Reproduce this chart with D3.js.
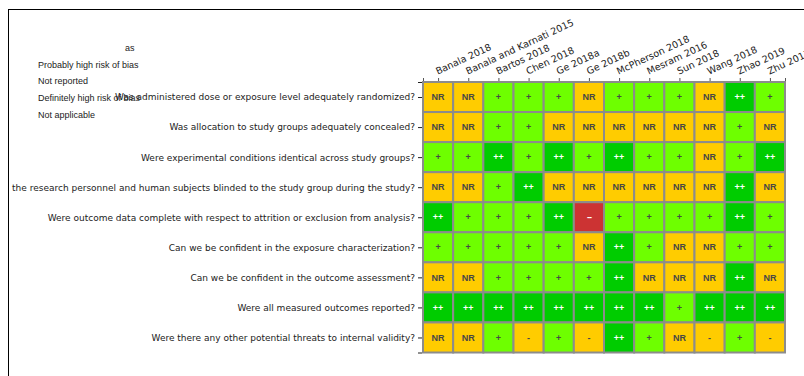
<!DOCTYPE html>
<html>
<head>
<meta charset="utf-8">
<script src="https://cdn.jsdelivr.net/npm/d3@7"></script>
<style>
  html, body { margin: 0; padding: 0; background: #fff; }
  svg { display: block; }
</style>
</head>
<body>
<svg id="chart" width="804" height="376"></svg>
<script>
// Risk-of-bias grid: one row per question, one column per study.
const studies = ["Banala 2018", "Banala and Karnati 2015", "Bartos 2018", "Chen 2018",
  "Ge 2018a", "Ge 2018b", "McPherson 2018", "Mesram 2016", "Sun 2018", "Wang 2018",
  "Zhao 2019", "Zhu 2017"];

const questions = [
  "Was administered dose or exposure level adequately randomized?",
  "Was allocation to study groups adequately concealed?",
  "Were experimental conditions identical across study groups?",
  "the research personnel and human subjects blinded to the study group during the study?",
  "Were outcome data complete with respect to attrition or exclusion from analysis?",
  "Can we be confident in the exposure characterization?",
  "Can we be confident in the outcome assessment?",
  "Were all measured outcomes reported?",
  "Were there any other potential threats to internal validity?"
];

// Ratings per question (row), ordered as the studies array
const ratingsQ1 = ["NR","NR","+","+","+","NR","+","+","+","NR","++","+"];
const ratingsQ2 = ["NR","NR","+","+","NR","NR","NR","NR","NR","NR","+","NR"];
const ratingsQ3 = ["+","+","++","+","++","+","++","+","+","NR","+","++"];
const ratingsQ4 = ["NR","NR","+","++","NR","NR","NR","NR","NR","NR","++","NR"];
const ratingsQ5 = ["++","+","+","+","++","--","+","+","+","+","++","+"];
const ratingsQ6 = ["+","+","+","+","+","NR","++","+","NR","NR","+","+"];
const ratingsQ7 = ["NR","NR","+","+","+","+","++","NR","NR","NR","++","NR"];
const ratingsQ8 = ["++","++","++","++","++","++","++","++","+","++","++","++"];
const ratingsQ9 = ["NR","NR","+","-","+","-","++","+","NR","-","+","-"];
const ratings = [ratingsQ1, ratingsQ2, ratingsQ3, ratingsQ4, ratingsQ5,
                 ratingsQ6, ratingsQ7, ratingsQ8, ratingsQ9];

const legendTitle = "as";
const legendItems = ["Probably high risk of bias", "Not reported",
  "Definitely high risk of bias", "Not applicable"];

const ratingFill = { "++": "#00cc00", "+": "#6eff00", "NR": "#ffcc00", "-": "#ffcc00", "--": "#cc3333" };
const ratingText = { "++": "#ffffff", "+": "#474747", "NR": "#474747", "-": "#474747", "--": "#ffffff" };

const svg = d3.select("#chart");

// outer frame
svg.append("rect")
  .attr("x", 8.5).attr("y", 9.5)
  .attr("width", 900).attr("height", 500)
  .attr("fill", "none").attr("stroke", "#000").attr("stroke-width", 1);

// legend text block
const legend = svg.append("g")
  .attr("font-family", "'Liberation Sans', Arial, sans-serif")
  .attr("font-size", 9).attr("fill", "#222");
legend.append("text").attr("x", 125).attr("y", 50.5).text(legendTitle);
legend.selectAll("text.item").data(legendItems).join("text")
  .attr("class", "item")
  .attr("x", 38)
  .attr("y", (d, i) => 67.5 + i * 16.8)
  .text(d => d);

// scales: cell i spans [i-0.5, i+0.5]
const x = d3.scaleLinear().domain([-0.5, studies.length - 0.5]).range([423, 785]);
const y = d3.scaleLinear().domain([-0.5, questions.length - 0.5]).range([82, 352.5]);
const cw = x(1) - x(0), ch = y(1) - y(0);

// cells
const cells = svg.append("g");
ratings.forEach((row, r) => {
  row.forEach((v, c) => {
    cells.append("rect")
      .attr("x", x(c - 0.5)).attr("y", y(r - 0.5))
      .attr("width", cw).attr("height", ch)
      .attr("fill", ratingFill[v])
      .attr("stroke", "#8c8c8c").attr("stroke-width", 2);
  });
});
ratings.forEach((row, r) => {
  row.forEach((v, c) => {
    cells.append("text")
      .attr("x", x(c)).attr("y", y(r))
      .attr("dy", "0.35em")
      .attr("text-anchor", "middle")
      .attr("font-family", "'Liberation Sans', Arial, sans-serif")
      .attr("font-weight", "bold")
      .attr("font-size", 9)
      .attr("letter-spacing", v === "--" ? -1 : 0)
      .attr("fill", ratingText[v])
      .text(v);
  });
});

// left axis with question labels
const yTicks = [-0.5, ...d3.range(questions.length), questions.length - 0.5];
const yAxis = svg.append("g")
  .attr("transform", `translate(${x(-0.5) - 1},0)`)
  .call(d3.axisLeft(y).tickValues(yTicks).tickSize(4).tickPadding(3)
    .tickFormat(t => Number.isInteger(t) ? questions[t] : ""));
yAxis.select(".domain").remove();
yAxis.selectAll("line").attr("stroke", "#222");
yAxis.selectAll("text")
  .attr("font-family", "'DejaVu Sans', sans-serif")
  .attr("font-size", 9).attr("fill", "#222");

// top axis with study labels
const xTicks = [-0.5, ...d3.range(studies.length), studies.length - 0.5];
const xAxis = svg.append("g")
  .attr("transform", `translate(0,${y(-0.5) - 1})`)
  .call(d3.axisTop(x).tickValues(xTicks).tickSize(3).tickPadding(4)
    .tickFormat(t => Number.isInteger(t) ? studies[t] : ""));
xAxis.select(".domain").remove();
xAxis.selectAll("line").attr("stroke", "#555");
xAxis.selectAll("text")
  .attr("font-family", "'DejaVu Sans', sans-serif")
  .attr("font-size", 9.5).attr("fill", "#222")
  .attr("text-anchor", "start")
  .attr("dy", 0)
  .attr("transform", "translate(2,0) rotate(-25)");
</script>
</body>
</html>
